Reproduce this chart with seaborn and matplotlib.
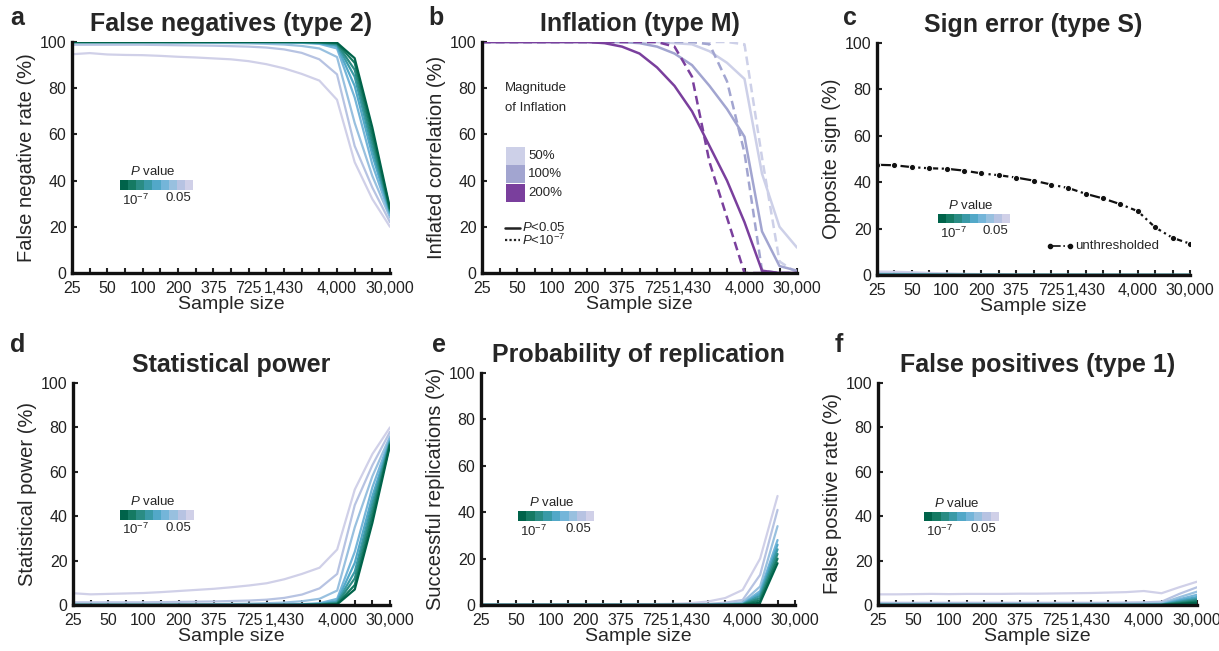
import numpy as np
import pandas as pd
import matplotlib
matplotlib.use("Agg")
import matplotlib.pyplot as plt
import seaborn as sns
from matplotlib.colors import ListedColormap
from matplotlib.patches import Rectangle
from matplotlib.lines import Line2D

# ---------------- data ----------------
sample_labels = ['25', '', '50', '', '100', '', '200', '', '375', '', '725', '',
                 '1,430', '', '', '4,000', '', '', '30,000']
p_levels = ['1e-7', '1e-6', '1e-5', '1e-4', '1e-3', '0.005', '0.01', '0.025', '0.05']
p_colors = ['#00634a', '#157a63', '#2a8c84', '#3a9aa7', '#52a8c8', '#74b5d9',
            '#98c0df', '#b7c3e2', '#d0d0e8']

false_neg = [
    [100, 100, 100, 100, 100, 100, 100, 100, 100, 100, 100, 100, 100, 100, 100, 99.7, 93, 63, 28],
    [100, 100, 100, 100, 100, 100, 100, 100, 100, 100, 100, 100, 100, 100, 99.9, 99.5, 91, 60, 27.5],
    [100, 100, 100, 100, 100, 100, 100, 100, 100, 100, 100, 100, 100, 100, 99.8, 99.2, 88, 57, 27],
    [100, 100, 100, 100, 100, 100, 100, 100, 100, 100, 100, 100, 100, 99.9, 99.7, 98.8, 85, 54, 26.5],
    [100, 100, 100, 100, 100, 100, 100, 100, 100, 100, 100, 100, 99.9, 99.8, 99.5, 98.2, 81, 51, 26],
    [100, 100, 100, 100, 100, 100, 100, 100, 100, 100, 100, 99.9, 99.8, 99.6, 99.2, 97.2, 76, 47, 25],
    [99.8, 99.8, 99.8, 99.8, 99.8, 99.8, 99.7, 99.7, 99.6, 99.5, 99.4, 99.2, 98.9, 98.3, 97.2, 93.5, 65, 42, 24],
    [98.8, 98.8, 98.8, 98.8, 98.8, 98.7, 98.6, 98.5, 98.4, 98.2, 98, 97.6, 96.8, 95.3, 92.5, 86, 55, 37, 22],
    [94.7, 95.2, 94.6, 94.4, 94.3, 94, 93.6, 93.3, 92.9, 92.5, 91.7, 90.4, 88.6, 86.2, 83.3, 75, 48, 32, 20],
]

power = [
    [0, 0, 0, 0, 0, 0, 0, 0, 0, 0, 0, 0, 0, 0, 0, 0.3, 7, 37, 72],
    [0, 0, 0, 0, 0, 0, 0, 0, 0, 0, 0, 0, 0, 0, 0.1, 0.5, 9, 40, 72.5],
    [0, 0, 0, 0, 0, 0, 0, 0, 0, 0, 0, 0, 0, 0, 0.2, 0.8, 12, 43, 73],
    [0, 0, 0, 0, 0, 0, 0, 0, 0, 0, 0, 0, 0, 0.1, 0.3, 1.2, 15, 46, 73.5],
    [0, 0, 0, 0, 0, 0, 0, 0, 0, 0, 0, 0, 0.1, 0.2, 0.5, 1.8, 19, 49, 74],
    [0, 0, 0, 0, 0, 0, 0, 0, 0, 0, 0, 0.1, 0.2, 0.4, 0.8, 2.8, 24, 53, 75],
    [0.2, 0.2, 0.2, 0.2, 0.2, 0.2, 0.3, 0.3, 0.4, 0.5, 0.6, 0.8, 1.1, 1.7, 2.8, 6.5, 35, 58, 76],
    [1.2, 1.2, 1.2, 1.2, 1.2, 1.3, 1.4, 1.5, 1.6, 1.8, 2, 2.4, 3.2, 4.7, 7.5, 14, 45, 63, 78],
    [5.3, 4.8, 5, 5.2, 5.4, 5.8, 6.3, 6.8, 7.3, 8, 8.8, 9.8, 11.6, 14, 16.8, 25, 52, 68, 80],
]

replication = [
    [0, 0, 0, 0, 0, 0, 0, 0, 0, 0, 0, 0, 0, 0, 0, 0, 1, 18],
    [0, 0, 0, 0, 0, 0, 0, 0, 0, 0, 0, 0, 0, 0, 0, 0.1, 2, 20],
    [0, 0, 0, 0, 0, 0, 0, 0, 0, 0, 0, 0, 0, 0, 0, 0.2, 3, 22],
    [0, 0, 0, 0, 0, 0, 0, 0, 0, 0, 0, 0, 0, 0, 0.1, 0.3, 4, 24],
    [0, 0, 0, 0, 0, 0, 0, 0, 0, 0, 0, 0, 0, 0, 0.1, 0.4, 5, 26],
    [0, 0, 0, 0, 0, 0, 0, 0, 0, 0, 0, 0, 0, 0.1, 0.2, 0.6, 6, 28],
    [0, 0, 0, 0, 0, 0, 0, 0, 0, 0, 0, 0, 0.1, 0.2, 0.4, 1.2, 8, 34],
    [0.1, 0.1, 0.1, 0.1, 0.1, 0.1, 0.1, 0.1, 0.1, 0.1, 0.1, 0.2, 0.3, 0.5, 1, 2.2, 13, 41],
    [0.3, 0.3, 0.3, 0.3, 0.3, 0.3, 0.3, 0.3, 0.3, 0.4, 0.4, 0.5, 0.8, 1.5, 3, 6.5, 20, 47],
]

sign_err = [
    [0, 0, 0, 0, 0, 0, 0, 0, 0, 0, 0, 0, 0, 0, 0, 0, 0, 0, 0],
    [0, 0, 0, 0, 0, 0, 0, 0, 0, 0, 0, 0, 0, 0, 0, 0, 0, 0, 0],
    [0, 0, 0, 0, 0, 0, 0, 0, 0, 0, 0, 0, 0, 0, 0, 0, 0, 0, 0],
    [0, 0, 0, 0, 0, 0, 0, 0, 0, 0, 0, 0, 0, 0, 0, 0, 0, 0, 0],
    [0.1, 0.1, 0.1, 0.1, 0, 0, 0, 0, 0, 0, 0, 0, 0, 0, 0, 0, 0, 0, 0],
    [0.2, 0.2, 0.2, 0.1, 0.1, 0, 0, 0, 0, 0, 0, 0, 0, 0, 0, 0, 0, 0, 0],
    [0.4, 0.4, 0.3, 0.2, 0.1, 0.1, 0, 0, 0, 0, 0, 0, 0, 0, 0, 0, 0, 0, 0],
    [0.8, 0.7, 0.6, 0.4, 0.3, 0.2, 0.1, 0.1, 0, 0, 0, 0, 0, 0, 0, 0, 0, 0, 0],
    [1.5, 1.4, 1.2, 0.9, 0.7, 0.5, 0.4, 0.3, 0.2, 0.15, 0.1, 0.1, 0.05, 0, 0, 0, 0, 0, 0],
]
sign_unthr = [47.5, 47.3, 46.5, 46, 45.8, 45, 43.8, 43, 42, 40.7, 39, 37.5,
              35, 33, 30.5, 27.5, 20.5, 16, 13.5]

false_pos = [
    [0, 0, 0, 0, 0, 0, 0, 0, 0, 0, 0, 0, 0, 0, 0, 0, 0, 0.4, 1],
    [0, 0, 0, 0, 0, 0, 0, 0, 0, 0, 0, 0, 0, 0, 0, 0, 0, 0.7, 1.6],
    [0, 0, 0, 0, 0, 0, 0, 0, 0, 0, 0, 0, 0, 0, 0, 0, 0.05, 1.1, 2.2],
    [0, 0, 0, 0, 0, 0, 0, 0, 0, 0, 0, 0, 0, 0, 0, 0, 0.1, 1.5, 2.8],
    [0, 0, 0, 0, 0, 0, 0, 0, 0, 0, 0, 0, 0, 0, 0, 0.1, 0.2, 2, 3.6],
    [0.1, 0.1, 0.1, 0.1, 0.1, 0.1, 0.1, 0.1, 0.1, 0.1, 0.1, 0.1, 0.1, 0.1, 0.1, 0.2, 0.3, 2.6, 4.6],
    [0.5, 0.5, 0.5, 0.5, 0.5, 0.5, 0.5, 0.5, 0.5, 0.5, 0.5, 0.5, 0.5, 0.5, 0.5, 0.6, 0.8, 3.5, 6],
    [1, 1, 1, 1, 1, 1, 1, 1, 1, 1, 1, 1, 1, 1, 1.1, 1.2, 1.5, 5, 8],
    [4.8, 4.8, 4.9, 5, 4.9, 5, 5, 5, 5.1, 5.1, 5.2, 5.3, 5.4, 5.6, 5.8, 6.3, 5.3, 8, 10.5],
]

infl_mags = ['50%', '100%', '200%']
infl_colors = ['#cdd0e8', '#a2a5d0', '#7a3f9d']
infl_p05 = [
    [100, 100, 100, 100, 100, 100, 100, 100, 100, 100, 100, 99.5, 99, 96, 91, 84, 43, 20, 11],
    [100, 100, 100, 100, 100, 100, 100, 100, 100, 99.5, 98, 95, 90, 81, 71, 59, 18, 3, 1],
    [100, 100, 100, 100, 100, 100, 100, 99.5, 98, 95, 89, 81, 70, 55, 40, 22, 1, 0, 0],
]
infl_p1e7 = [
    [100, 100, 100, 100, 100, 100, 100, 100, 100, 100, 100, 100, 100, 100, 100, 99, 50, 5, 0],
    [100, 100, 100, 100, 100, 100, 100, 100, 100, 100, 100, 100, 100, 99, 83, 52, 1, 0, 0],
    [100, 100, 100, 100, 100, 100, 100, 100, 100, 100, 100, 98, 85, 48, 24, 0, 0, 0, 0],
]

# ---------------- style ----------------
sns.set_theme(style="ticks")
plt.rcParams['font.family'] = ['Liberation Sans', 'DejaVu Sans']
plt.rcParams['mathtext.fontset'] = 'custom'
plt.rcParams['mathtext.rm'] = 'Liberation Sans'
plt.rcParams['mathtext.it'] = 'Liberation Sans:italic'

fig = plt.figure(figsize=(12.19, 6.51), dpi=100)

def make_ax(l, t, r, b):
    W, H = 1219.0, 651.0
    return fig.add_axes([l / W, (H - b) / H, (r - l) / W, (b - t) / H])

ax_a = make_ax(72, 42, 390, 273)
ax_b = make_ax(482, 42, 797, 273)
ax_c = make_ax(877, 43, 1190, 275)
ax_d = make_ax(73, 383, 390, 605)
ax_e = make_ax(481, 373, 795, 605)
ax_f = make_ax(878, 383, 1197, 605)

def long_df(rows):
    recs = []
    for lvl, vals in zip(p_levels, rows):
        for i, v in enumerate(vals):
            recs.append((i, v, lvl))
    return pd.DataFrame(recs, columns=['pos', 'value', 'p'])

def style_ax(ax, title, ylabel):
    n = len(sample_labels)
    ax.set_xlim(0, n - 1)
    ax.set_ylim(0, 100)
    major = [i for i, s in enumerate(sample_labels) if s]
    ax.set_xticks(major)
    ax.set_xticklabels([sample_labels[i] for i in major], fontsize=11.5)
    ax.set_xticks([i for i, s in enumerate(sample_labels) if not s], minor=True)
    ax.set_yticks([0, 20, 40, 60, 80, 100])
    ax.set_yticklabels(['0', '20', '40', '60', '80', '100'], fontsize=11.5)
    ax.tick_params(which='both', direction='in', length=3.5, width=1.5, colors='#222222')
    ax.tick_params(axis='x', which='both', pad=6)
    ax.tick_params(axis='y', pad=4)
    for s in ['top', 'right']:
        ax.spines[s].set_visible(False)
    for s in ['left', 'bottom']:
        ax.spines[s].set_linewidth(2.4)
        ax.spines[s].set_color('#111111')
    ax.set_xlabel('Sample size', fontsize=14, labelpad=0)
    ax.set_ylabel(ylabel, fontsize=14.5, labelpad=3)
    ax.set_title(title, fontsize=18, fontweight='bold', pad=8)

def p_colorbar(ax, x0, y0, w, h):
    cax = ax.inset_axes([x0, y0, w, h])
    cax.imshow(np.arange(len(p_colors))[None, :], cmap=ListedColormap(p_colors), aspect='auto')
    cax.set_xticks([])
    cax.set_yticks([])
    cax.set_axis_off()
    ax.text(x0 + w * 0.45, y0 + h + 0.01, '$P$ value', transform=ax.transAxes,
            ha='center', va='bottom', fontsize=9.5)
    ax.text(x0 + 0.005, y0 - 0.01, '10$^{-7}$', transform=ax.transAxes,
            ha='left', va='top', fontsize=9.5)
    ax.text(x0 + w - 0.005, y0 - 0.01, '0.05', transform=ax.transAxes,
            ha='right', va='top', fontsize=9.5)

hue_order = p_levels[::-1]
pal_map = dict(zip(p_levels, p_colors))

# a
sns.lineplot(data=long_df(false_neg), x='pos', y='value', hue='p', hue_order=hue_order,
             palette=pal_map, legend=False, ax=ax_a, linewidth=1.6)
style_ax(ax_a, 'False negatives (type 2)', 'False negative rate (%)')
p_colorbar(ax_a, 0.151, 0.359, 0.229, 0.044)

# b
recs = []
for mag, vals in zip(infl_mags, infl_p05):
    for i, v in enumerate(vals):
        recs.append((i, v, mag, 'P<0.05'))
for mag, vals in zip(infl_mags, infl_p1e7):
    for i, v in enumerate(vals):
        recs.append((i, v, mag, 'P<1e-7'))
df_b = pd.DataFrame(recs, columns=['pos', 'value', 'mag', 'thr'])
sns.lineplot(data=df_b, x='pos', y='value', hue='mag', hue_order=infl_mags,
             palette=dict(zip(infl_mags, infl_colors)), style='thr',
             dashes={'P<0.05': '', 'P<1e-7': (3.5, 2)}, legend=False, ax=ax_b, linewidth=1.8)
style_ax(ax_b, 'Inflation (type M)', 'Inflated correlation (%)')
ax_b.text(0.171, 0.80, 'Magnitude', transform=ax_b.transAxes, ha='center', va='center', fontsize=9.5)
ax_b.text(0.171, 0.714, 'of Inflation', transform=ax_b.transAxes, ha='center', va='center', fontsize=9.5)
patch_y = [0.468, 0.39, 0.307]
for c, lab, y in zip(infl_colors, infl_mags, patch_y):
    ax_b.add_patch(Rectangle((0.076, y), 0.061, 0.078, transform=ax_b.transAxes,
                             facecolor=c, edgecolor='none'))
    ax_b.text(0.146, y + 0.039, lab, transform=ax_b.transAxes, ha='left', va='center', fontsize=9.5)
ax_b.add_line(Line2D([0.073, 0.12], [0.195, 0.195], transform=ax_b.transAxes, color='#222222', lw=1.8))
ax_b.add_line(Line2D([0.073, 0.12], [0.143, 0.143], transform=ax_b.transAxes, color='#222222',
                     lw=1.6, linestyle=(0, (1, 1))))
ax_b.text(0.128, 0.195, '$P$<0.05', transform=ax_b.transAxes, ha='left', va='center', fontsize=9.5)
ax_b.text(0.128, 0.143, '$P$<10$^{-7}$', transform=ax_b.transAxes, ha='left', va='center', fontsize=9.5)

# c
sns.lineplot(data=long_df(sign_err), x='pos', y='value', hue='p', hue_order=hue_order,
             palette=pal_map, legend=False, ax=ax_c, linewidth=1.6, clip_on=False)
df_c = pd.DataFrame({'pos': np.arange(len(sign_unthr)), 'value': sign_unthr})
sns.lineplot(data=df_c, x='pos', y='value', ax=ax_c, color='#111111', linestyle='-.',
             marker='o', markersize=4.5, linewidth=1.6, legend=False)
style_ax(ax_c, 'Sign error (type S)', 'Opposite sign (%)')
p_colorbar(ax_c, 0.195, 0.224, 0.23, 0.037)
ax_c.add_line(Line2D([0.553, 0.617], [0.125, 0.125], transform=ax_c.transAxes, color='#111111',
                     lw=1.2, linestyle='-.', marker='o', markersize=3, markevery=[0, 1]))
ax_c.text(0.632, 0.125, 'unthresholded', transform=ax_c.transAxes, ha='left', va='center', fontsize=9.5)

# d
sns.lineplot(data=long_df(power), x='pos', y='value', hue='p', hue_order=hue_order,
             palette=pal_map, legend=False, ax=ax_d, linewidth=1.6)
style_ax(ax_d, 'Statistical power', 'Statistical power (%)')
p_colorbar(ax_d, 0.148, 0.383, 0.231, 0.045)

# e
sns.lineplot(data=long_df(replication), x='pos', y='value', hue='p', hue_order=hue_order,
             palette=pal_map, legend=False, ax=ax_e, linewidth=1.6)
style_ax(ax_e, 'Probability of replication', 'Successful replications (%)')
p_colorbar(ax_e, 0.118, 0.362, 0.239, 0.043)

# f
sns.lineplot(data=long_df(false_pos), x='pos', y='value', hue='p', hue_order=hue_order,
             palette=pal_map, legend=False, ax=ax_f, linewidth=1.6)
style_ax(ax_f, 'False positives (type 1)', 'False positive rate (%)')
p_colorbar(ax_f, 0.144, 0.378, 0.232, 0.041)

# panel letters
for letter, x, y in [('a', 10, 18), ('b', 428, 18), ('c', 843, 18),
                     ('d', 10, 345), ('e', 432, 345), ('f', 835, 345)]:
    fig.text(x / 1219, 1 - y / 651, letter, fontsize=18, fontweight='bold', ha='left', va='center')

fig.savefig('out.png', dpi=100)
